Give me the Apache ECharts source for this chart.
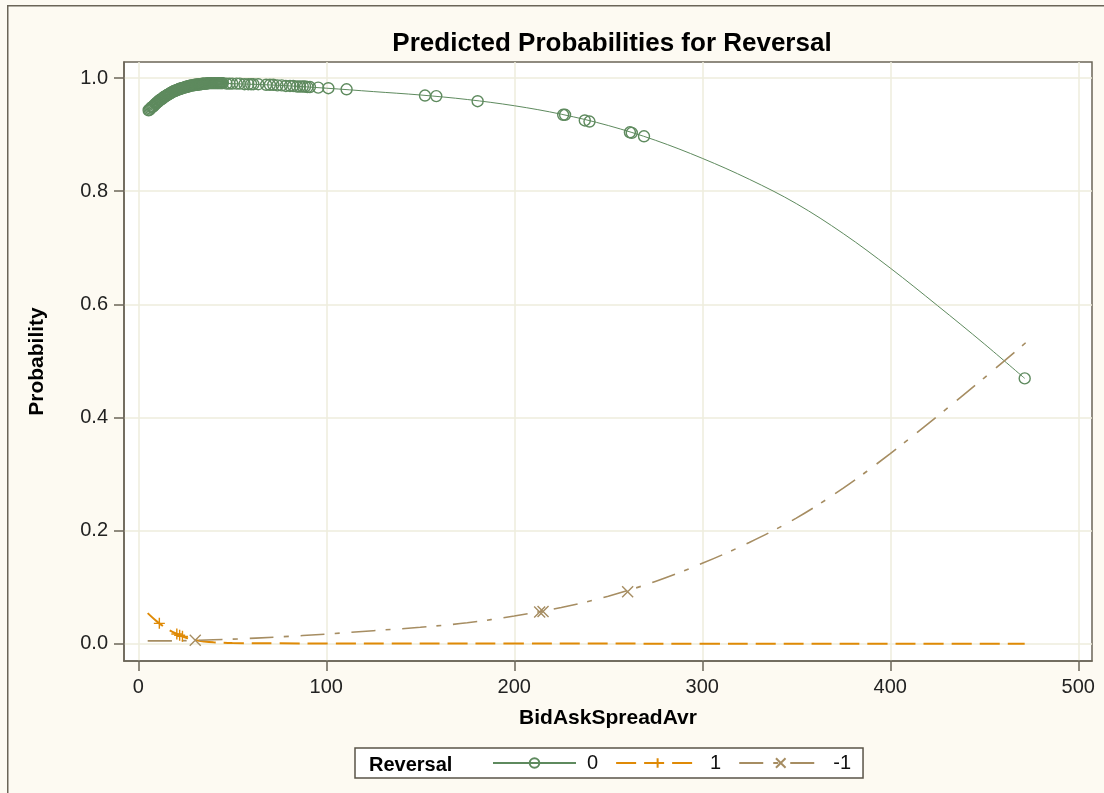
<!DOCTYPE html>
<html>
<head>
<meta charset="utf-8">
<title>Predicted Probabilities for Reversal</title>
<script src="https://cdn.jsdelivr.net/npm/echarts@6/dist/echarts.min.js"></script>
<style>
  html, body { margin: 0; padding: 0; background: #fdfaf2; }
  #chart { width: 1104px; height: 793px; }
</style>
</head>
<body>
<div id="chart"></div>
<script>
// Axis ticks
const xTicks = [0, 100, 200, 300, 400, 500];
const yTicks = [0.0, 0.2, 0.4, 0.6, 0.8, 1.0];

// Reversal levels
const levels = ['0', '1', '-1'];

// Fitted probability curves (BidAskSpreadAvr -> probability)
const curveX0 = [5, 10, 15, 20, 25, 30, 40, 50, 75, 100, 125, 150, 175, 200, 225, 250, 275, 300, 325, 350, 375, 400, 425, 450, 471.5];
const curveP0 = [0.941, 0.957, 0.969, 0.978, 0.984, 0.988, 0.991, 0.990, 0.987, 0.982, 0.976, 0.970, 0.962, 0.951, 0.936, 0.916, 0.890, 0.858, 0.821, 0.778, 0.725, 0.664, 0.598, 0.530, 0.469];

const curveX1 = [5, 10, 15, 20, 25, 30, 35, 40, 50, 75, 100, 200, 300, 400, 471.5];
const curveP1 = [0.054, 0.039, 0.027, 0.018, 0.011, 0.0065, 0.004, 0.0025, 0.0012, 0.0006, 0.0004, 0.0002, 0.0001, 0.0001, 0.0001];

const curveXm1 = [5, 20, 30, 50, 75, 100, 125, 150, 175, 200, 225, 250, 275, 300, 325, 350, 375, 400, 425, 450, 472];
const curvePm1 = [0.005, 0.005, 0.006, 0.008, 0.012, 0.017, 0.023, 0.029, 0.037, 0.049, 0.064, 0.084, 0.110, 0.142, 0.179, 0.222, 0.275, 0.336, 0.402, 0.470, 0.532];

// Observations: predicted probability of each observed spread
const obsX0 = [
  5.5, 6, 6.5, 7, 7.5, 8, 8.5, 9, 9.5, 10,
  10.5, 11, 11.5, 12, 12.5, 13, 13.5, 14, 14.5, 15,
  15.5, 16, 16.5, 17, 17.5, 18, 18.5, 19, 19.5, 20,
  20.5, 21, 21.5, 22, 22.5, 23, 23.5, 24, 24.5, 25,
  25.5, 26, 26.5, 27, 27.5, 28, 28.5, 29, 29.5, 30,
  30.5, 31, 31.5, 32, 32.5, 33, 33.5, 34, 34.5, 35,
  35.5, 36, 36.5, 37, 37.5, 38, 38.5, 39, 39.5, 40,
  40.5, 41, 41.5, 42, 42.5, 43, 43.5, 44, 44.5, 45,
  47, 48.5, 50, 52.3, 54, 56.5, 58.5, 60, 61.2, 63.8,
  68, 70, 71.8, 74, 76.3, 78.5, 80.7, 82.4, 84.5, 86,
  87.5, 88.7, 90, 91.3, 95.7, 101.1, 110.8,
  152.5, 158.5, 180.5, 226, 227, 237.5, 240, 261.5, 262.5, 269, 471.5];
const obsP0 = [
  0.943, 0.944, 0.946, 0.948, 0.949, 0.950, 0.952, 0.954, 0.955, 0.957,
  0.958, 0.960, 0.961, 0.962, 0.963, 0.964, 0.966, 0.967, 0.968, 0.969,
  0.970, 0.971, 0.972, 0.973, 0.974, 0.975, 0.976, 0.977, 0.977, 0.978,
  0.979, 0.979, 0.980, 0.981, 0.981, 0.982, 0.982, 0.983, 0.983, 0.984,
  0.984, 0.985, 0.985, 0.986, 0.986, 0.987, 0.987, 0.987, 0.987, 0.988,
  0.988, 0.988, 0.988, 0.989, 0.989, 0.989, 0.989, 0.990, 0.990, 0.990,
  0.990, 0.990, 0.990, 0.991, 0.991, 0.991, 0.991, 0.991, 0.991, 0.991,
  0.991, 0.991, 0.991, 0.991, 0.991, 0.991, 0.991, 0.991, 0.991, 0.991,
  0.990, 0.990, 0.990, 0.990, 0.990, 0.989, 0.989, 0.989, 0.989, 0.989,
  0.988, 0.988, 0.988, 0.987, 0.987, 0.986, 0.986, 0.986, 0.985, 0.985,
  0.985, 0.985, 0.984, 0.984, 0.983, 0.982, 0.980,
  0.969, 0.968, 0.959, 0.935, 0.935, 0.925, 0.923, 0.904, 0.903, 0.897, 0.469];

const obsX1 = [11.2, 20.5, 22, 23.5];
const obsP1 = [0.036, 0.017, 0.015, 0.013];

const obsXm1 = [30.3, 213.5, 215.3, 260.3];
const obsPm1 = [0.006, 0.056, 0.057, 0.092];

// Styling
const colors = { '0': '#5e8a5e', '1': '#df8a06', '-1': '#a68d62' };
const FONT = 'Liberation Sans, Arial, sans-serif';
const PLUS = 'path://M0,5L10,5M5,0L5,10';
const CROSS = 'path://M0,0L10,10M10,0L0,10';

const zip = (xs, ys) => xs.map((x, i) => [x, ys[i]]);

const curves = [
  { name: '0', data: zip(curveX0, curveP0), symbol: 'circle', line: { width: 1, type: 'solid' } },
  { name: '1', data: zip(curveX1, curveP1), symbol: PLUS, line: { width: 2, type: [20, 8] } },
  { name: '-1', data: zip(curveXm1, curvePm1), symbol: CROSS, line: { width: 1.6, type: [24, 10, 5, 12] } }
];
const observations = [
  { name: '0', data: zip(obsX0, obsP0), symbol: 'circle', size: 11 },
  { name: '1', data: zip(obsX1, obsP1), symbol: PLUS, size: 11 },
  { name: '-1', data: zip(obsXm1, obsPm1), symbol: CROSS, size: 11 }
];

const series = [];
curves.forEach(c => {
  series.push({
    name: c.name,
    type: 'line',
    data: c.data,
    smooth: 0.35,
    symbol: c.symbol,
    symbolSize: 10,
    showSymbol: false,
    silent: true,
    lineStyle: { color: colors[c.name], width: c.line.width, type: c.line.type },
    itemStyle: { color: 'rgba(0,0,0,0)', borderColor: colors[c.name], borderWidth: 1.3 },
    z: 2
  });
});
observations.forEach(o => {
  series.push({
    name: o.name,
    type: 'scatter',
    data: o.data,
    symbol: o.symbol,
    symbolSize: o.size,
    itemStyle: { color: 'rgba(0,0,0,0)', borderColor: colors[o.name], borderWidth: 1.4, opacity: 1 },
    z: 3
  });
});

const chart = echarts.init(document.getElementById('chart'), null, { renderer: 'canvas' });
chart.setOption({
  backgroundColor: '#fdfaf2',
  animation: false,
  textStyle: { fontFamily: FONT },
  graphic: [{
    type: 'rect',
    left: 7, top: 5,
    shape: { width: 1120, height: 820 },
    style: { fill: '#fdfaf2', stroke: '#6b6558', lineWidth: 1.5 },
    z: -10, silent: true
  }],
  title: [{
    text: 'Predicted Probabilities for Reversal',
    left: 607, top: 26,
    textAlign: 'center',
    textStyle: { fontFamily: FONT, fontSize: 26, fontWeight: 'bold', color: '#000' }
  }, {
    text: 'Reversal',
    left: 364, top: 750,
    textStyle: { fontFamily: FONT, fontSize: 20, fontWeight: 'bold', color: '#000' }
  }],
  legend: {
    data: levels,
    left: 355, top: 748,
    orient: 'horizontal',
    padding: [5, 12, 5, 137],
    itemWidth: 83, itemHeight: 12,
    itemGap: 17,
    selectedMode: false,
    backgroundColor: '#fff',
    borderColor: '#5a5448',
    borderWidth: 1.5,
    textStyle: { fontFamily: FONT, fontSize: 20, color: '#111', padding: [0, 0, 0, 6] }
  },
  grid: {
    left: 124, right: 12, top: 62, bottom: 132,
    show: true,
    backgroundColor: '#ffffff',
    borderColor: '#6b6558',
    borderWidth: 1.5,
    containLabel: false
  },
  xAxis: {
    type: 'value',
    min: -7.6, max: 507.3,
    name: 'BidAskSpreadAvr',
    nameLocation: 'middle',
    nameGap: 47,
    nameTextStyle: { fontFamily: FONT, fontSize: 21, fontWeight: 'bold', color: '#000' },
    axisLine: { show: true, onZero: false, lineStyle: { color: '#6b6558', width: 1.5 } },
    axisTick: { show: true, length: 10, customValues: xTicks, lineStyle: { color: '#6b6558', width: 1.5 } },
    axisLabel: { customValues: xTicks, margin: 16, fontFamily: FONT, fontSize: 20, color: '#222' },
    splitLine: { show: true, lineStyle: { color: '#eeecdc', width: 1.5 } }
  },
  yAxis: {
    type: 'value',
    min: -0.0306, max: 1.0283,
    name: 'Probability',
    nameLocation: 'middle',
    nameGap: 76,
    nameRotate: 90,
    nameTextStyle: { fontFamily: FONT, fontSize: 21, fontWeight: 'bold', color: '#000' },
    axisLine: { show: true, onZero: false, lineStyle: { color: '#6b6558', width: 1.5 } },
    axisTick: { show: true, length: 10, customValues: yTicks, lineStyle: { color: '#6b6558', width: 1.5 } },
    axisLabel: { customValues: yTicks, margin: 16, fontFamily: FONT, fontSize: 20, color: '#222', formatter: v => v.toFixed(1) },
    splitLine: { show: true, lineStyle: { color: '#eeecdc', width: 1.5 } }
  },
  series: series
});
</script>
</body>
</html>
